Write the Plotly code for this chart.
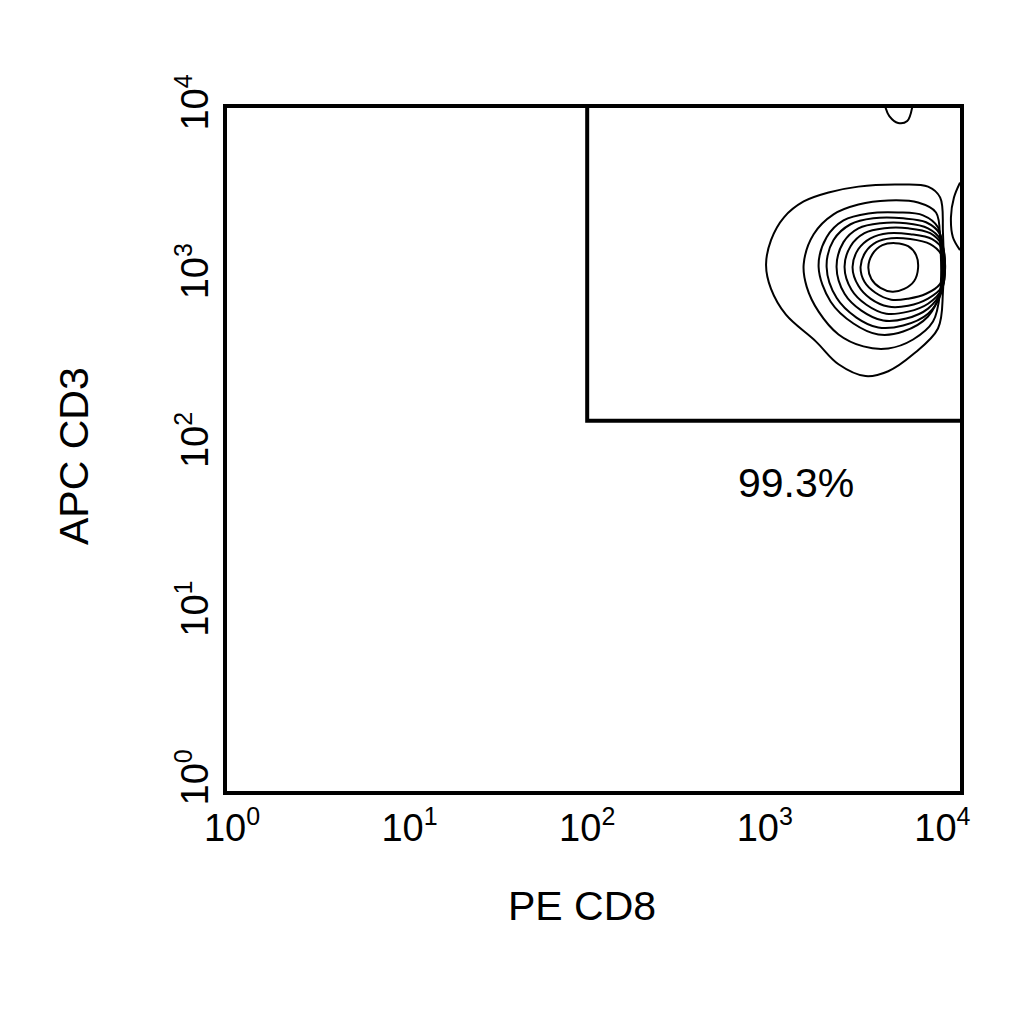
import numpy as np
import plotly.graph_objects as go

# ---- data (log10 units) ----
x_ticks = [0, 1, 2, 3, 4]
y_ticks = [0, 1, 2, 3, 4]
tick_exps = ["0", "1", "2", "3", "4"]

x_label = "PE CD8"
y_label = "APC CD3"

gate_x_min = 2.0      # log10 PE CD8 lower bound of the gate
gate_y_min = 2.147    # log10 APC CD3 lower bound of the gate
gate_pct = "99.3%"
gate_pct_pos = (3.175, 1.776)

# closed contour rings (log10 x, log10 y), outer to inner
ring1_x = [3.007, 3.035, 3.108, 3.219, 3.359, 3.527, 3.751, 3.919, 3.987, 4.003, 4.003, 3.975, 3.835, 3.695, 3.567, 3.415, 3.287, 3.119, 3.035]
ring1_y = [3.071, 3.218, 3.353, 3.447, 3.500, 3.535, 3.547, 3.535, 3.471, 3.265, 2.912, 2.694, 2.541, 2.441, 2.412, 2.482, 2.618, 2.776, 2.929]
ring2_x = [3.219, 3.275, 3.387, 3.527, 3.695, 3.863, 3.964, 3.987, 3.987, 3.947, 3.835, 3.695, 3.555, 3.415, 3.303, 3.236]
ring2_y = [3.076, 3.253, 3.371, 3.429, 3.453, 3.441, 3.382, 3.206, 2.912, 2.735, 2.629, 2.576, 2.588, 2.659, 2.794, 2.941]
ring3_x = [3.303, 3.348, 3.443, 3.583, 3.751, 3.891, 3.975, 3.998, 3.987, 3.919, 3.779, 3.639, 3.499, 3.371]
ring3_y = [3.059, 3.235, 3.335, 3.376, 3.382, 3.365, 3.294, 3.118, 2.912, 2.765, 2.676, 2.659, 2.724, 2.853]
ring4_x = [3.348, 3.387, 3.483, 3.611, 3.779, 3.908, 3.987, 4.009, 3.992, 3.919, 3.779, 3.639, 3.516, 3.404]
ring4_y = [3.059, 3.218, 3.312, 3.347, 3.347, 3.324, 3.253, 3.088, 2.900, 2.782, 2.712, 2.700, 2.759, 2.876]
ring5_x = [3.404, 3.443, 3.527, 3.651, 3.796, 3.919, 3.992, 4.009, 3.992, 3.919, 3.796, 3.667, 3.544, 3.449]
ring5_y = [3.059, 3.206, 3.288, 3.318, 3.318, 3.288, 3.218, 3.076, 2.912, 2.812, 2.753, 2.741, 2.800, 2.900]
ring6_x = [3.449, 3.483, 3.561, 3.673, 3.807, 3.931, 3.998, 4.015, 3.998, 3.919, 3.807, 3.684, 3.572, 3.488]
ring6_y = [3.059, 3.182, 3.259, 3.288, 3.288, 3.259, 3.188, 3.065, 2.929, 2.841, 2.794, 2.782, 2.835, 2.924]
ring7_x = [3.494, 3.527, 3.595, 3.695, 3.819, 3.942, 4.003, 4.015, 3.998, 3.919, 3.807, 3.695, 3.595, 3.527]
ring7_y = [3.059, 3.165, 3.229, 3.259, 3.253, 3.224, 3.159, 3.053, 2.941, 2.871, 2.829, 2.824, 2.871, 2.947]
ring8_x = [3.539, 3.567, 3.628, 3.712, 3.819, 3.931, 3.992, 4.009, 3.987, 3.908, 3.807, 3.712, 3.623, 3.561]
ring8_y = [3.059, 3.147, 3.206, 3.229, 3.224, 3.194, 3.135, 3.047, 2.959, 2.900, 2.871, 2.865, 2.906, 2.971]
ring9_x = [3.583, 3.606, 3.662, 3.735, 3.807, 3.852, 3.863, 3.841, 3.785, 3.718, 3.651, 3.600]
ring9_y = [3.059, 3.135, 3.188, 3.200, 3.182, 3.129, 3.053, 2.976, 2.929, 2.912, 2.935, 2.988]

# open contour fragments cut by the plot edges
edge_right_x = [4.099, 4.065, 4.048, 4.059, 4.099]
edge_right_y = [3.559, 3.471, 3.353, 3.235, 3.159]
edge_top_x = [3.679, 3.701, 3.751, 3.802, 3.830]
edge_top_y = [4.006, 3.953, 3.912, 3.924, 4.006]

x_range = [-0.028, 4.099]
y_range = [-0.047, 4.001]

rings_x = [ring1_x, ring2_x, ring3_x, ring4_x, ring5_x, ring6_x, ring7_x, ring8_x, ring9_x]
rings_y = [ring1_y, ring2_y, ring3_y, ring4_y, ring5_y, ring6_y, ring7_y, ring8_y, ring9_y]

tick_text = ["10<sup><span style='font-size:25px'>%s</span></sup>" % e for e in tick_exps]

fig = go.Figure()

for rx, ry in zip(rings_x, rings_y):
    xs = np.power(10.0, rx + rx[:1])
    ys = np.power(10.0, ry + ry[:1])
    fig.add_trace(go.Scatter(x=xs, y=ys, mode="lines",
                             line=dict(color="black", width=2, shape="spline", smoothing=1.0),
                             hoverinfo="skip", showlegend=False))

for fx, fy in [(edge_right_x, edge_right_y), (edge_top_x, edge_top_y)]:
    fig.add_trace(go.Scatter(x=np.power(10.0, fx), y=np.power(10.0, fy), mode="lines",
                             line=dict(color="black", width=2, shape="spline", smoothing=1.0),
                             hoverinfo="skip", showlegend=False))

# gate
gx = np.power(10.0, [gate_x_min, gate_x_min, x_range[1] + 0.05])
gy = np.power(10.0, [y_range[1] + 0.05, gate_y_min, gate_y_min])
fig.add_trace(go.Scatter(x=gx, y=gy, mode="lines",
                         line=dict(color="black", width=4),
                         hoverinfo="skip", showlegend=False))

FONT = "Liberation Sans, Arial, sans-serif"

fig.add_annotation(x=gate_pct_pos[0], y=gate_pct_pos[1], xref="x", yref="y",
                   text=gate_pct, showarrow=False,
                   font=dict(family=FONT, size=41, color="black"))

fig.add_annotation(x=0.484, y=-0.168, xref="paper", yref="paper", text=x_label,
                   showarrow=False, xanchor="center", yanchor="middle",
                   font=dict(family=FONT, size=41, color="black"))
fig.add_annotation(x=-0.2087, y=0.4905, xref="paper", yref="paper", text=y_label,
                   showarrow=False, xanchor="center", yanchor="middle", textangle=-90,
                   font=dict(family=FONT, size=41, color="black"))

fig.update_xaxes(type="log", range=x_range, tickvals=[10 ** v for v in x_ticks], ticktext=tick_text,
                 showgrid=False, zeroline=False, ticks="", showline=True, mirror=True,
                 linecolor="black", linewidth=4,
                 tickfont=dict(family=FONT, size=38, color="black"))
fig.update_yaxes(type="log", range=y_range, tickvals=[10 ** v for v in y_ticks], ticktext=tick_text,
                 showgrid=False, zeroline=False, ticks="", showline=True, mirror=True,
                 linecolor="black", linewidth=4, tickangle=-90,
                 tickfont=dict(family=FONT, size=38, color="black"))

fig.update_layout(width=1024, height=1024, margin=dict(l=219, r=72, t=100, b=241),
                  plot_bgcolor="white", paper_bgcolor="white", showlegend=False)

fig.write_html("out.html")
